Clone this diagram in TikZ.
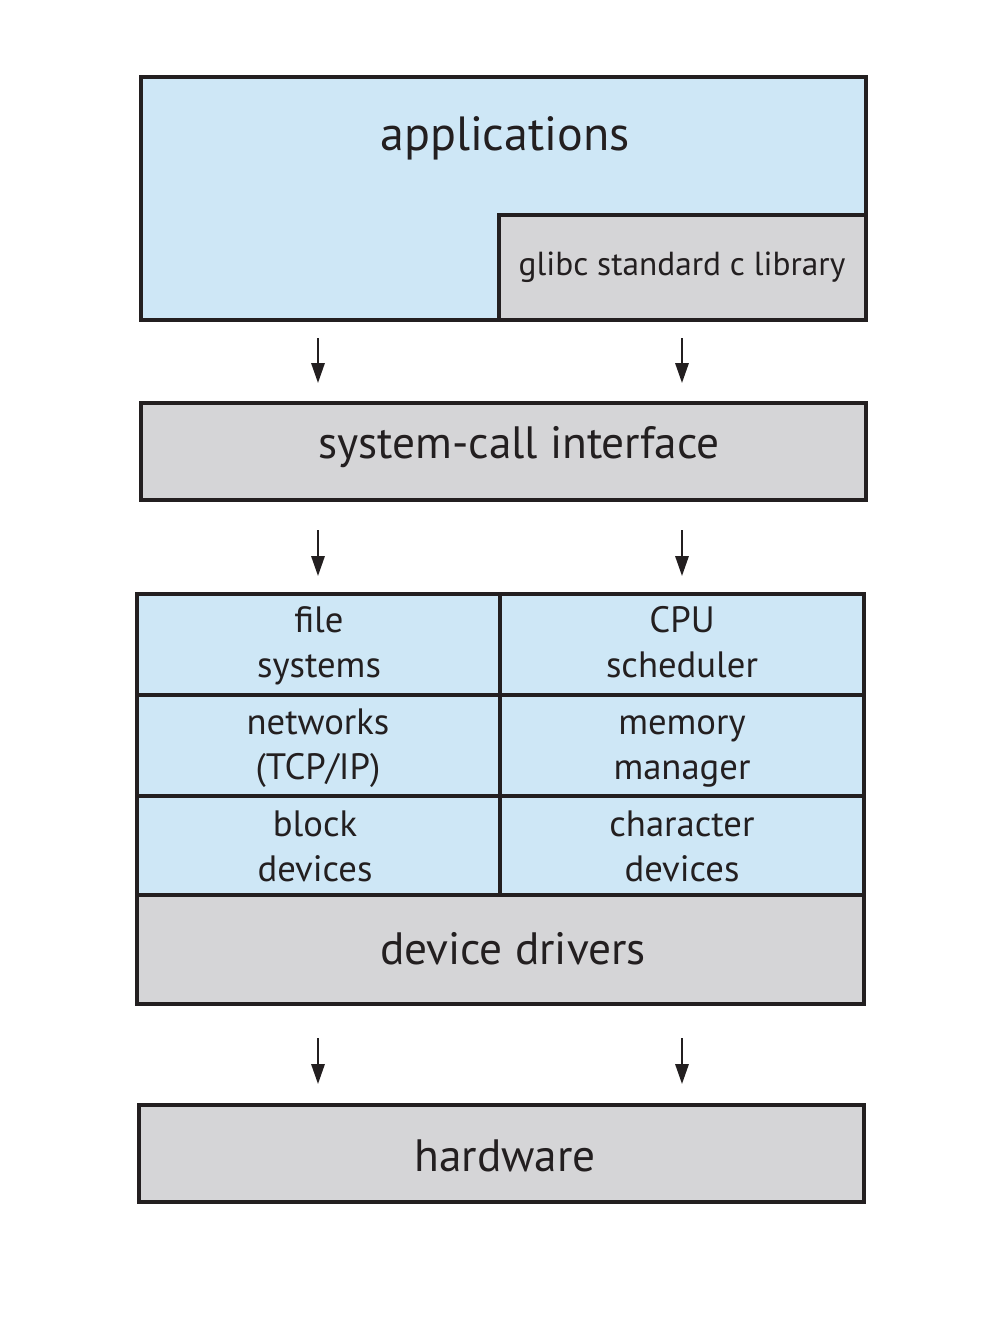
\documentclass[tikz,border=0pt]{standalone}
\usepackage{fontspec}
\setmainfont{PT Sans}
\usetikzlibrary{arrows.meta}
\definecolor{appblue}{HTML}{CEE7F6}
\definecolor{boxgray}{HTML}{D5D5D7}
\definecolor{inkc}{HTML}{231F20}
\tikzset{
  blk/.style={draw=inkc, line width=2.3pt},
  bluebox/.style={blk, fill=appblue},
  graybox/.style={blk, fill=boxgray},
  lbl/.style={text=inkc, align=center, inner sep=0pt},
  big/.style={lbl, font=\fontsize{34}{40}\selectfont},
  mid/.style={lbl, font=\fontsize{27.5}{34}\selectfont},
  small/.style={lbl, font=\fontsize{25}{30}\selectfont},
  flow/.style={draw=inkc, line width=1.6pt, -{Triangle[length=15pt,width=10pt]}}
}
\begin{document}
\begin{tikzpicture}[x=0.75pt,y=-0.75pt]
\useasboundingbox (0,0) rectangle (1002,1318);
\fill[white] (0,0) rectangle (1002,1318);
% applications
\draw[bluebox] (141,77) rectangle (866,320);
\node[big, font=\fontsize{36}{40}\selectfont] (app) at (505,138) {applications};
\draw[graybox] (499,215) rectangle (866,320);
\node[small] (glibc) at (682,267) {glibc standard c library};
% arrows 1
\coordinate (a1s) at (318,338); \coordinate (a1e) at (318,383);
\coordinate (a2s) at (682,338); \coordinate (a2e) at (682,383);
\draw[flow] (a1s) -- (a1e);
\draw[flow] (a2s) -- (a2e);
% system call interface
\draw[graybox] (141,403) rectangle (866,500);
\node[big] (sci) at (519,447) {system-call interface};
\coordinate (b1s) at (318,530); \coordinate (b1e) at (318,576);
\coordinate (b2s) at (682,530); \coordinate (b2e) at (682,576);
\draw[flow] (b1s) -- (b1e);
\draw[flow] (b2s) -- (b2e);
% kernel grid
\draw[bluebox] (137,594) rectangle (864,895);
\draw[blk] (500,594) -- (500,895);
\draw[blk] (137,695) -- (864,695);
\draw[blk] (137,796) -- (864,796);
\node[mid] (fs) at (319,646) {\strut file\\\strut systems};
\node[mid] (cpu) at (682,646) {\strut CPU\\\strut scheduler};
\node[mid] (net) at (318,748) {\strut networks\\\strut (TCP/IP)};
\node[mid] (mem) at (682,748) {\strut memory\\\strut manager};
\node[mid] (blkd) at (315,850) {\strut block\\\strut devices};
\node[mid] (chr) at (682,850) {\strut character\\\strut devices};
% device drivers
\draw[graybox] (137,895) rectangle (864,1004);
\node[big] (dd) at (513,949) {device drivers};
\coordinate (c1s) at (318,1038); \coordinate (c1e) at (318,1084);
\coordinate (c2s) at (682,1038); \coordinate (c2e) at (682,1084);
\draw[flow] (c1s) -- (c1e);
\draw[flow] (c2s) -- (c2e);
% hardware
\draw[graybox] (139,1105) rectangle (864,1202);
\node[big] (hw) at (505,1156) {hardware};
\end{tikzpicture}
\end{document}
